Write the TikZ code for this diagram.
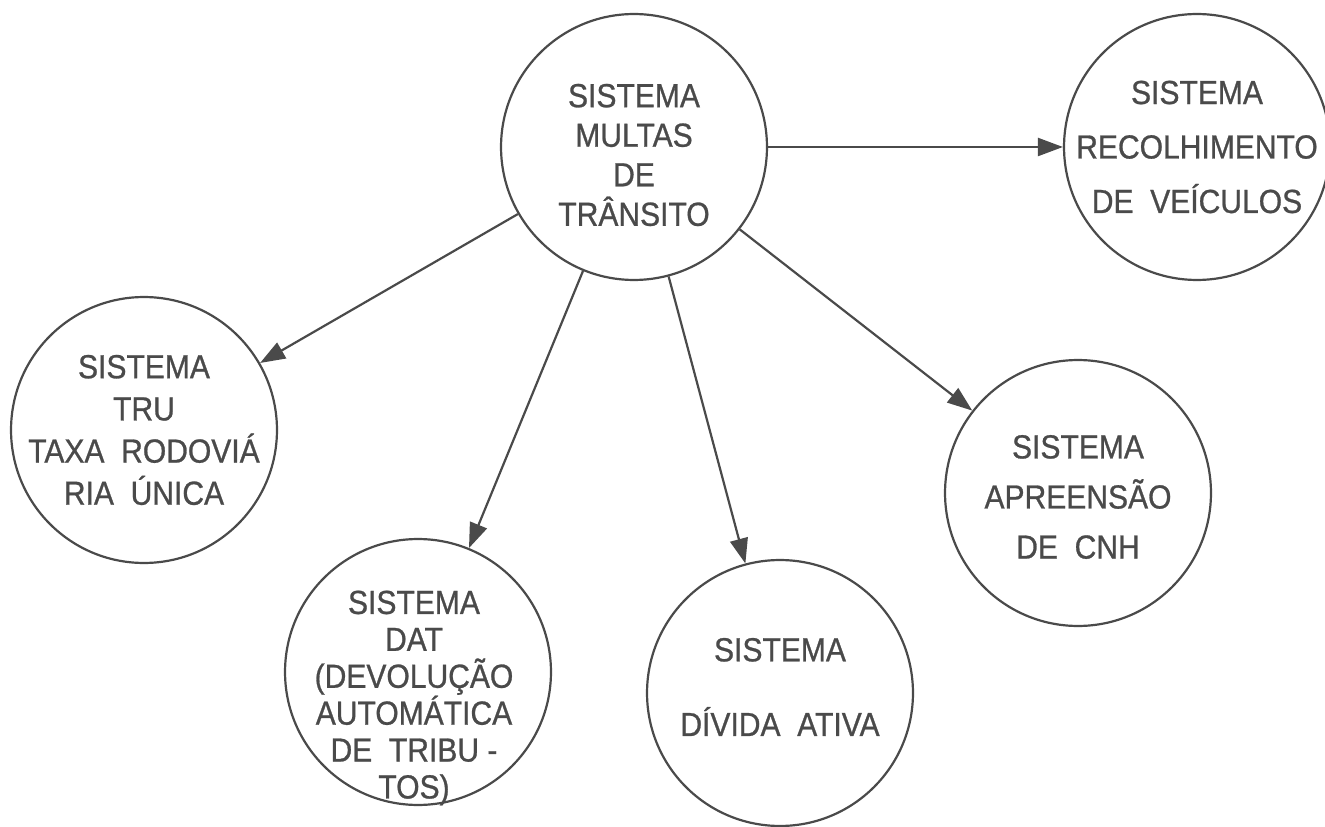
\documentclass[tikz,border=0pt]{standalone}
\usepackage{fontspec}
\setmainfont{Liberation Sans}[FakeStretch=0.9, FakeBold=0.8]
\usepackage{tikz}
\usetikzlibrary{arrows.meta}
\definecolor{inkgray}{HTML}{4A4A4A}

\begin{document}
\begin{tikzpicture}[x=0.02cm, y=-0.02cm,
  sys/.style={draw=inkgray, circle, line width=1.25pt, minimum size=5.32cm, inner sep=0pt},
  txt/.style={align=center, text=inkgray, font=\fontsize{19}{#1}\selectfont},
  txt/.default=22,
  link/.style={draw=inkgray, line width=1.25pt, -{Triangle[length=0.5cm, width=0.36cm]}}]

  \useasboundingbox (0,0) rectangle (1325,827);

  \node[sys, label={[txt=22.5, yshift=-0.16cm]center:{SISTEMA\\MULTAS\\DE\\TRÂNSITO}}] (multas) at (634,147) {};
  \node[sys, label={[txt=31]center:{SISTEMA\\RECOLHIMENTO\\DE\enspace VEÍCULOS}}] (recol) at (1197,147) {};
  \node[sys, label={[txt=24]center:{SISTEMA\\TRU\\TAXA\enspace RODOVIÁ\\RIA\enspace ÚNICA}}] (tru) at (144,430) {};
  \node[sys, label={[txt=21, yshift=-0.52cm, xshift=-0.08cm]center:{SISTEMA\\DAT\\(DEVOLUÇÃO\\AUTOMÁTICA\\DE\enspace TRIBU -\\TOS)}}] (dat) at (418,672) {};
  \node[sys, label={[txt=42.5, yshift=0.12cm]center:{SISTEMA\\DÍVIDA\enspace ATIVA}}] (divida) at (780,693) {};
  \node[sys, label={[txt=28.5, yshift=-0.08cm]center:{SISTEMA\\APREENSÃO\\DE\enspace CNH}}] (cnh) at (1078,493) {};

  \draw[link] (multas) -- (recol);
  \draw[link] (multas) -- (tru);
  \draw[link] (multas) -- (dat);
  \draw[link] (multas) -- (divida);
  \draw[link] (multas) -- (cnh);

\end{tikzpicture}
\end{document}
